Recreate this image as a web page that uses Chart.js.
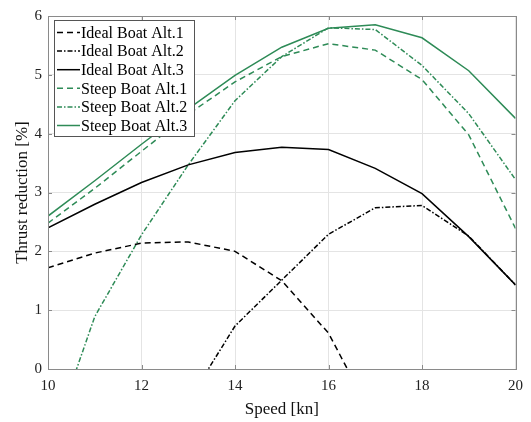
<!DOCTYPE html>
<html>
<head>
<meta charset="utf-8">
<script src="https://cdn.jsdelivr.net/npm/chart.js@4"></script>
<style>
html,body{margin:0;padding:0;background:#fff;}
#wrap{width:531px;height:422px;}
</style>
</head>
<body>
<div id="wrap"><canvas id="c" width="531" height="422"></canvas></div>
<script>
const speeds = [10, 11, 12, 13, 14, 15, 16, 17, 18, 19, 20];
const idealAlt1 = [1.72, 1.97, 2.14, 2.16, 2.0, 1.5, 0.61, -0.9, null, null, null];
const idealAlt2 = [null, null, null, -0.55, 0.73, 1.51, 2.29, 2.74, 2.78, 2.26, 1.43];
const idealAlt3 = [2.4, 2.8, 3.17, 3.47, 3.68, 3.77, 3.73, 3.41, 2.98, 2.25, 1.43];
const steepAlt1 = [2.48, 3.07, 3.7, 4.33, 4.88, 5.31, 5.53, 5.42, 4.92, 3.98, 2.39];
const steepAlt2 = [-1.4, 0.89, 2.28, 3.47, 4.56, 5.31, 5.8, 5.77, 5.16, 4.34, 3.22];
const steepAlt3 = [2.6, 3.2, 3.82, 4.42, 4.99, 5.47, 5.79, 5.85, 5.63, 5.07, 4.26];
const seriesNames = ['Ideal Boat Alt.1','Ideal Boat Alt.2','Ideal Boat Alt.3','Steep Boat Alt.1','Steep Boat Alt.2','Steep Boat Alt.3'];
const xTicks = [10, 12, 14, 16, 18, 20];
const yTicks = [0, 1, 2, 3, 4, 5, 6];

const BLACK = '#000000';
const GREEN = '#2e8b57';
const DASH = [6, 4];
const DASHDOT = [5, 2, 1.5, 2];
const styles = [
  {c: BLACK, d: DASH}, {c: BLACK, d: DASHDOT}, {c: BLACK, d: []},
  {c: GREEN, d: DASH}, {c: GREEN, d: DASHDOT}, {c: GREEN, d: []}
];
const allSeries = [idealAlt1, idealAlt2, idealAlt3, steepAlt1, steepAlt2, steepAlt3];

const datasets = allSeries.map((vals, i) => ({
  label: seriesNames[i],
  data: speeds.map((s, j) => ({x: s, y: vals[j]})),
  borderColor: styles[i].c,
  borderDash: styles[i].d,
  borderWidth: 1.5,
  pointRadius: 0,
  fill: false,
  tension: 0,
  spanGaps: false
}));

const FONT = "'Liberation Serif', 'DejaVu Serif', serif";

const legendPlugin = {
  id: 'insideLegend',
  afterDraw(chart) {
    const ctx = chart.ctx;
    const x0 = 54, y0 = 20, w = 140, h = 116;
    ctx.save();
    ctx.fillStyle = '#fff';
    ctx.fillRect(x0, y0, w, h);
    ctx.strokeStyle = '#555';
    ctx.lineWidth = 1;
    ctx.setLineDash([]);
    ctx.strokeRect(x0 + 0.5, y0 + 0.5, w, h);
    ctx.font = '16px ' + FONT;
    ctx.textBaseline = 'middle';
    ctx.fillStyle = '#000';
    chart.data.datasets.forEach((ds, i) => {
      const cy = y0 + 12.5 + i * 18.6;
      ctx.strokeStyle = ds.borderColor;
      ctx.lineWidth = 1.5;
      ctx.setLineDash(ds.borderDash || []);
      ctx.beginPath();
      ctx.moveTo(x0 + 3, cy);
      ctx.lineTo(x0 + 26, cy);
      ctx.stroke();
      ctx.setLineDash([]);
      ctx.fillText(ds.label, x0 + 27, cy + 1);
    });
    ctx.restore();
  }
};

const boxPlugin = {
  id: 'boxBorder',
  afterDatasetsDraw(chart) {
    const a = chart.chartArea;
    const ctx = chart.ctx;
    ctx.save();
    ctx.strokeStyle = '#8a8a8a';
    ctx.lineWidth = 1;
    ctx.setLineDash([]);
    ctx.strokeRect(Math.round(a.left) + 0.5, Math.round(a.top) + 0.5, Math.round(a.right - a.left), Math.round(a.bottom - a.top));
    // inward ticks
    const xs = chart.scales.x, ys = chart.scales.y;
    ctx.beginPath();
    xTicks.forEach(t => {
      const px = Math.round(xs.getPixelForValue(t)) + 0.5;
      ctx.moveTo(px, a.bottom); ctx.lineTo(px, a.bottom - 4);
      ctx.moveTo(px, a.top); ctx.lineTo(px, a.top + 4);
    });
    yTicks.forEach(t => {
      const py = Math.round(ys.getPixelForValue(t)) + 0.5;
      ctx.moveTo(a.left, py); ctx.lineTo(a.left + 4, py);
      ctx.moveTo(a.right, py); ctx.lineTo(a.right - 4, py);
    });
    ctx.stroke();
    ctx.restore();
  }
};

new Chart(document.getElementById('c'), {
  type: 'line',
  data: {datasets},
  options: {
    responsive: false,
    animation: false,
    devicePixelRatio: 1,
    layout: {padding: {top: 16, right: 14, left: 0, bottom: 0}},
    plugins: {legend: {display: false}, tooltip: {enabled: false}},
    scales: {
      x: {
        type: 'linear', min: 10, max: 20,
        afterBuildTicks(s) { s.ticks = xTicks.map(v => ({value: v})); },
        afterFit(s) { s.height = 53; },
        grid: {color: '#e4e4e4', drawTicks: false, lineWidth: 1},
        border: {display: false},
        ticks: {padding: 8, color: '#222', font: {family: FONT, size: 15}, maxRotation: 0},
        title: {display: true, text: 'Speed [kn]', color: '#111', font: {family: FONT, size: 17}, padding: {top: 0, bottom: 2}}
      },
      y: {
        type: 'linear', min: 0, max: 6,
        afterBuildTicks(s) { s.ticks = yTicks.map(v => ({value: v})); },
        afterFit(s) { s.width = 48; },
        grid: {color: '#e4e4e4', drawTicks: false, lineWidth: 1},
        border: {display: false},
        ticks: {padding: 6, color: '#222', font: {family: FONT, size: 15}},
        title: {display: true, text: 'Thrust reduction [%]', color: '#111', font: {family: FONT, size: 17}, padding: {top: 12, bottom: 0}}
      }
    }
  },
  plugins: [boxPlugin, legendPlugin]
});
</script>
</body>
</html>
